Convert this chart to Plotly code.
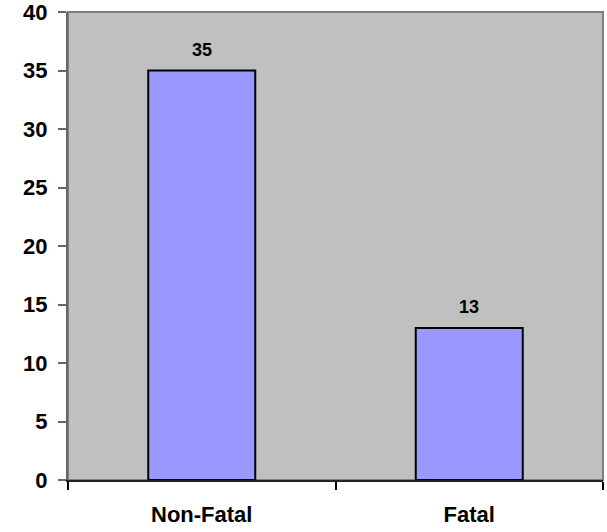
import plotly.graph_objects as go

categories = ["Non-Fatal", "Fatal"]
values = [35, 13]
y_ticks = [0, 5, 10, 15, 20, 25, 30, 35, 40]

FONT = "Liberation Sans, Arial, sans-serif"

fig = go.Figure()
fig.add_trace(go.Bar(
    x=categories, y=values, width=0.4,
    marker=dict(color="#9999FF", line=dict(color="black", width=2)),
    hoverinfo="skip",
))

for c, v in zip(categories, values):
    fig.add_annotation(x=c, y=v, text=f"<b>{v}</b>", showarrow=False,
                       yanchor="bottom", yshift=9,
                       font=dict(family=FONT, size=18, color="black"))

# plot-area border (top and right)
fig.add_shape(type="rect", xref="paper", yref="paper", x0=0, x1=1, y0=0, y1=1,
              line=dict(color="#808080", width=2), layer="below")

fig.update_layout(
    width=607, height=532,
    margin=dict(l=68, r=4, t=12, b=52),
    paper_bgcolor="white", plot_bgcolor="#C0C0C0",
    showlegend=False,
    font=dict(family=FONT, color="black"),
)
fig.update_xaxes(
    type="category", tickson="boundaries", ticks="outside", ticklen=8,
    tickcolor="black", tickwidth=2, showline=True, linecolor="#222222", linewidth=2,
    tickfont=dict(family=FONT, size=22, color="black"),
    tickvals=categories, ticktext=[f"<b>{c}</b>" for c in categories],
    ticklabelstandoff=14, showgrid=False, range=[-0.5, 1.5],
    automargin=False, ticklabeloverflow="allow",
)
fig.update_yaxes(
    range=[0, 40], tickvals=y_ticks, ticktext=[f"<b>{t}</b>" for t in y_ticks],
    ticks="outside", ticklen=8, tickcolor="#666666", tickwidth=2,
    showline=True, linecolor="#666666", linewidth=2, showgrid=False, zeroline=False,
    tickfont=dict(family=FONT, size=22, color="black"), ticklabelstandoff=6,
    automargin=False, ticklabeloverflow="allow",
)

fig.write_html("out.html", config={"displayModeBar": False},
               post_script="document.body.style.margin='0px';document.body.style.overflow='hidden';")
